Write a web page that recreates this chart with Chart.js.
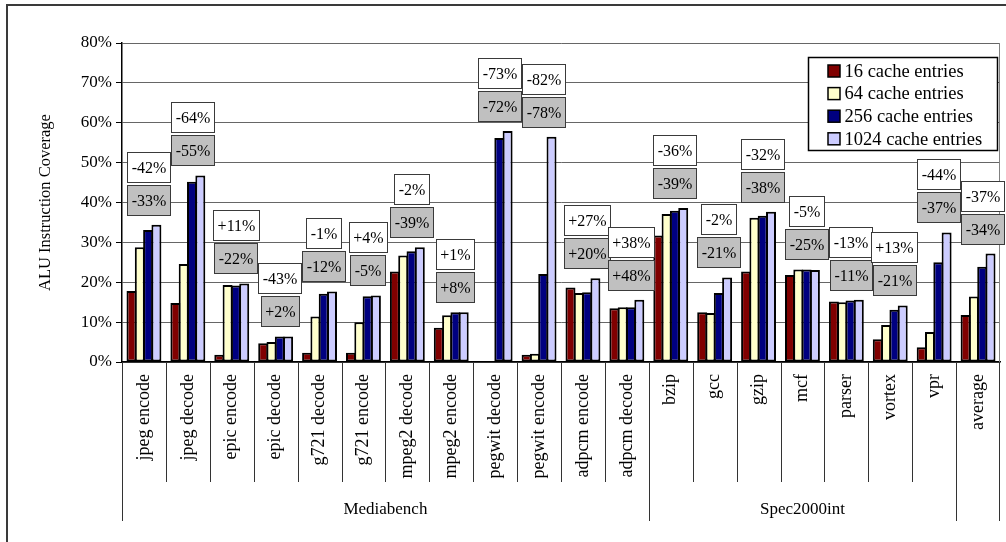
<!DOCTYPE html>
<html>
<head>
<meta charset="utf-8">
<script src="https://cdn.jsdelivr.net/npm/chart.js@4.4.1/dist/chart.umd.min.js"></script>
<style>
  html, body { margin: 0; padding: 0; background: #fff; overflow: hidden; }
  #wrap { position: relative; width: 1006px; height: 542px; overflow: hidden; }
  #wrap canvas { position: absolute; left: 0; top: 0; }
  #frame { position: absolute; left: 6px; top: 4px; width: 1200px; height: 800px;
           border: 2px solid #3a3a3a; pointer-events: none; }
</style>
</head>
<body>
<div id="wrap">
  <canvas id="c" width="1006" height="542"></canvas>
  <div id="frame"></div>
</div>
<script>
// Benchmarks on the category axis, and how they are grouped
const categories = ['jpeg encode', 'jpeg decode', 'epic encode', 'epic decode', 'g721 decode',
  'g721 encode', 'mpeg2 decode', 'mpeg2 encode', 'pegwit decode', 'pegwit encode',
  'adpcm encode', 'adpcm decode', 'bzip', 'gcc', 'gzip', 'mcf', 'parser', 'vortex', 'vpr', 'average'];
const groupNames = ['Mediabench', 'Spec2000int', ''];
const groupSizes = [12, 7, 1];

// ALU instruction coverage (%) per cache size
const entries16   = [17.8, 14.8, 1.8, 4.7, 2.3, 2.3, 22.7, 8.6, 0, 1.8, 18.7, 13.5, 31.7, 12.5, 22.7, 21.8, 15.2, 5.7, 3.7, 11.8];
const entries64   = [28.8, 24.6, 19.3, 5.0, 11.4, 10.0, 26.7, 11.7, 0, 2.1, 17.3, 13.7, 37.1, 12.3, 36.2, 23.2, 15.0, 9.3, 7.5, 16.4];
const entries256  = [33.1, 45.2, 19.2, 6.4, 17.1, 16.5, 27.8, 12.5, 56.2, 22.1, 17.5, 13.7, 37.9, 17.3, 36.7, 23.2, 15.4, 13.1, 25.0, 23.9];
const entries1024 = [34.4, 46.8, 19.7, 6.4, 17.7, 16.7, 28.8, 12.5, 57.9, 56.5, 21.0, 15.6, 38.6, 21.2, 37.7, 23.1, 15.6, 14.2, 32.5, 27.2];

// Relative changes shown above each benchmark (white box, grey box)
const changeA = ['-42%', '-64%', '+11%', '-43%', '-1%', '+4%', '-2%', '+1%', '-73%', '-82%',
  '+27%', '+38%', '-36%', '-2%', '-32%', '-5%', '-13%', '+13%', '-44%', '-37%'];
const changeB = ['-33%', '-55%', '-22%', '+2%', '-12%', '-5%', '-39%', '+8%', '-72%', '-78%',
  '+20%', '+48%', '-39%', '-21%', '-38%', '-25%', '-11%', '-21%', '-37%', '-34%'];

// Value axis
const yMin = 0, yMax = 80, yStep = 10;

const serif = "'Liberation Serif', 'Times New Roman', serif";

// Two stacked boxes with the change figures, above the tallest bar of each benchmark
const changeBoxes = {
  id: 'changeBoxes',
  afterDatasetsDraw(chart) {
    const ctx = chart.ctx;
    const metas = chart.data.datasets.map((d, k) => chart.getDatasetMeta(k).data);
    const anchor = metas[2];
    ctx.save();
    ctx.font = '16px ' + serif;
    ctx.textAlign = 'center';
    ctx.textBaseline = 'middle';
    const drawBox = (text, cx, bottom, fill) => {
      const w = Math.round(ctx.measureText(text).width + 8);
      const h = 30;
      const x = Math.round(cx - w / 2) + 0.5;
      const y = Math.round(bottom - h) + 0.5;
      ctx.fillStyle = fill;
      ctx.fillRect(x, y, w, h);
      ctx.strokeStyle = '#3a3a3a';
      ctx.lineWidth = 1;
      ctx.strokeRect(x, y, w, h);
      ctx.fillStyle = '#000';
      ctx.fillText(text, x + w / 2, y + h / 2 + 1);
    };
    categories.forEach((c, i) => {
      const top = Math.min(...metas.map(m => m[i].y));
      const cx = anchor[i].x;
      const bottom = top - 10;
      drawBox(changeB[i], cx, bottom, '#c0c0c0');
      drawBox(changeA[i], cx, bottom - 33, '#ffffff');
    });
    ctx.restore();
  }
};

// Boxed legend in the upper right of the plot area
const legendBox = {
  id: 'legendBox',
  afterDatasetsDraw(chart) {
    const { ctx, chartArea } = chart;
    const w = 189, h = 93;
    const x = Math.round(chartArea.right - 3 - w) + 0.5;
    const y = Math.round(chartArea.top + 14) + 0.5;
    ctx.save();
    ctx.fillStyle = '#fff';
    ctx.fillRect(x, y, w, h);
    ctx.strokeStyle = '#000';
    ctx.lineWidth = 1.5;
    ctx.strokeRect(x, y, w, h);
    ctx.font = '18.5px ' + serif;
    ctx.textAlign = 'left';
    ctx.textBaseline = 'middle';
    chart.data.datasets.forEach((ds, k) => {
      const cy = y + 13.5 + k * 22.6;
      ctx.fillStyle = ds.backgroundColor;
      ctx.fillRect(x + 19.5, cy - 6, 12, 12);
      ctx.strokeStyle = '#000';
      ctx.lineWidth = 1.5;
      ctx.strokeRect(x + 19.5, cy - 6, 12, 12);
      ctx.fillStyle = '#000';
      ctx.fillText(ds.label, x + 36, cy + 1);
    });
    ctx.restore();
  }
};

// Plot-area right edge, category separators and group names under the axis
const categoryGroups = {
  id: 'categoryGroups',
  beforeDatasetsDraw(chart) {
    const { ctx, chartArea: { top, right, bottom } } = chart;
    ctx.save();
    ctx.strokeStyle = '#808080';
    ctx.lineWidth = 1;
    const x = Math.round(right) - 0.5;
    ctx.beginPath();
    ctx.moveTo(x, top);
    ctx.lineTo(x, bottom);
    ctx.stroke();
    ctx.restore();
  },
  afterDraw(chart) {
    const { ctx, chartArea: { left, right, bottom } } = chart;
    const n = categories.length;
    const step = (right - left) / n;
    const edges = new Set([0]);
    let acc = 0;
    groupSizes.forEach(s => { acc += s; edges.add(acc); });
    ctx.save();
    ctx.strokeStyle = '#333';
    ctx.lineWidth = 1;
    for (let i = 0; i <= n; i++) {
      const x = Math.round(left + i * step) + (i === n ? -0.5 : 0.5);
      ctx.beginPath();
      ctx.moveTo(x, bottom);
      ctx.lineTo(x, bottom + (edges.has(i) ? 159 : 120));
      ctx.stroke();
    }
    ctx.font = '17px ' + serif;
    ctx.fillStyle = '#000';
    ctx.textAlign = 'center';
    ctx.textBaseline = 'middle';
    let start = 0;
    groupNames.forEach((g, k) => {
      const end = start + groupSizes[k];
      if (g) ctx.fillText(g, left + (start + end) / 2 * step, bottom + 148);
      start = end;
    });
    ctx.restore();
  }
};

new Chart(document.getElementById('c'), {
  type: 'bar',
  data: {
    labels: categories,
    datasets: [
      { label: '16 cache entries', data: entries16, backgroundColor: '#800000' },
      { label: '64 cache entries', data: entries64, backgroundColor: '#ffffcc' },
      { label: '256 cache entries', data: entries256, backgroundColor: '#000080' },
      { label: '1024 cache entries', data: entries1024, backgroundColor: '#ccccff' }
    ]
  },
  options: {
    responsive: false,
    animation: false,
    devicePixelRatio: 1,
    layout: { padding: { top: 43, right: 6, left: 0, bottom: 0 } },
    datasets: {
      bar: {
        categoryPercentage: 0.757,
        barPercentage: 1.2,
        borderColor: '#000',
        borderWidth: c => (c.raw === 0 ? 0 : 2),
        borderSkipped: false
      }
    },
    plugins: { legend: { display: false }, tooltip: { enabled: false } },
    scales: {
      x: {
        grid: { display: true, drawOnChartArea: false, drawTicks: false },
        border: { display: true, color: '#000', width: 1.5 },
        ticks: {
          maxRotation: 90, minRotation: 90, autoSkip: false, padding: 12,
          color: '#000', font: { family: serif, size: 18 }
        },
        afterFit(scale) {
          scale.height = 180;
          scale.paddingLeft = 0;
          scale.paddingRight = 0;
        }
      },
      y: {
        min: yMin, max: yMax,
        ticks: {
          stepSize: yStep, padding: 4, color: '#000',
          font: { family: serif, size: 17 },
          callback: v => v + '%'
        },
        grid: { color: '#666', tickColor: '#000', tickLength: 6, lineWidth: 1 },
        border: { color: '#000', width: 1.5 },
        title: {
          display: true, text: 'ALU Instruction Coverage', color: '#000',
          font: { family: serif, size: 16.5 }, padding: { top: 36, bottom: 0 }
        },
        afterFit(scale) { scale.width = 122; }
      }
    }
  },
  plugins: [categoryGroups, changeBoxes, legendBox]
});
</script>
</body>
</html>
